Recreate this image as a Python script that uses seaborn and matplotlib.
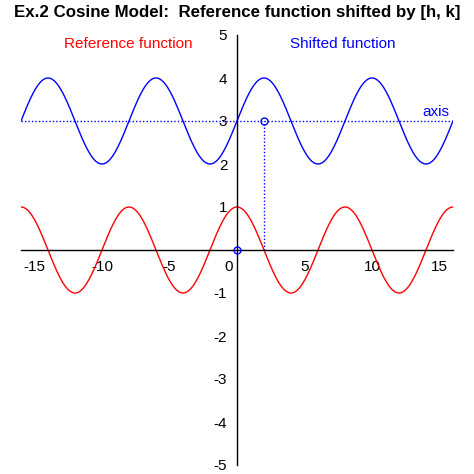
import numpy as np
import pandas as pd
import matplotlib
matplotlib.use("Agg")
import matplotlib.pyplot as plt
import matplotlib.transforms as mtransforms
from matplotlib.ticker import MultipleLocator
import seaborn as sns

# Parameters of the cosine model
period = 8.0
amplitude = 1.0
h_shift = 2.0
k_shift = 3.0
x_limits = [-16, 16]
y_limits = [-5, 5]
x_major_ticks = [-15, -10, -5, 0, 5, 10, 15]
y_major_ticks = [-5, -4, -3, -2, -1, 0, 1, 2, 3, 4, 5]

title_text = "Ex.2 Cosine Model:  Reference function shifted by [h, k]"
ref_label = "Reference function"
shift_label = "Shifted function"
axis_label = "axis"

sns.set_style("white")
plt.rcParams["font.family"] = ["Liberation Sans", "DejaVu Sans"]

x = np.linspace(x_limits[0], x_limits[1], 801)
ref_y = amplitude * np.cos(2 * np.pi * x / period)
shift_y = amplitude * np.cos(2 * np.pi * (x - h_shift) / period) + k_shift
df = pd.DataFrame({"x": np.concatenate([x, x]),
                   "y": np.concatenate([ref_y, shift_y]),
                   "curve": [ref_label] * len(x) + [shift_label] * len(x)})

fig = plt.figure(figsize=(4.74, 4.74), dpi=100)
ax = fig.add_axes([21 / 474, 1 - 465 / 474, 432 / 474, 430 / 474])

sns.lineplot(data=df, x="x", y="y", hue="curve",
             palette={ref_label: "#ff0000", shift_label: "#0000ff"},
             linewidth=1.0, legend=False, ax=ax, sort=False, estimator=None)

# axis of the shifted function and shift markers
ax.plot(x_limits, [k_shift, k_shift], color="#0000ff", lw=1.0, ls=(0, (1, 1.5)))
ax.plot([h_shift, h_shift], [0, k_shift], color="#0000ff", lw=1.0, ls=(0, (1, 1.5)))
ax.plot([0, h_shift], [0, k_shift], ls="none", marker="o", ms=5, mfc="none",
        mec="#0000ff", mew=1.0, zorder=5)

ax.set_xlim(*x_limits)
ax.set_ylim(*y_limits)
ax.set_xlabel("")
ax.set_ylabel("")

for s in ["top", "right"]:
    ax.spines[s].set_visible(False)
ax.spines["left"].set_position(("data", 0))
ax.spines["bottom"].set_position(("data", 0))
for s in ["left", "bottom"]:
    ax.spines[s].set_color("black")
    ax.spines[s].set_linewidth(1.0)

ax.set_xticks(x_major_ticks)
ax.set_xticklabels([str(v) for v in x_major_ticks])
ax.set_yticks([v for v in y_major_ticks if v != 0])
ax.set_yticklabels([str(v) for v in y_major_ticks if v != 0])
ax.xaxis.set_minor_locator(MultipleLocator(1))
ax.yaxis.set_minor_locator(MultipleLocator(0.2))
ax.tick_params(axis="both", which="major", direction="out", length=5, width=1,
               color="black", labelsize=11, labelcolor="black", pad=2)
ax.tick_params(axis="both", which="minor", direction="out", length=3, width=1,
               color="black")

# shift the "0" label to the left of the vertical axis
offset = mtransforms.ScaledTranslation(-8 / 100, 0, fig.dpi_scale_trans)
for lab in ax.get_xticklabels():
    if lab.get_text() == "0":
        lab.set_transform(lab.get_transform() + offset)

fig.text(237 / 474, 1 - 12 / 474, title_text, ha="center", va="center",
         fontsize=12.2, fontweight="bold", color="black")
fig.text(128 / 474, 1 - 44 / 474, ref_label, ha="center", va="center",
         fontsize=11, color="#ff0000")
fig.text(343 / 474, 1 - 44 / 474, shift_label, ha="center", va="center",
         fontsize=11, color="#0000ff")
ax.text(14.7, k_shift + 0.05, axis_label, ha="center", va="bottom",
        fontsize=11, color="#0000ff")

fig.savefig("out.png", dpi=100)
